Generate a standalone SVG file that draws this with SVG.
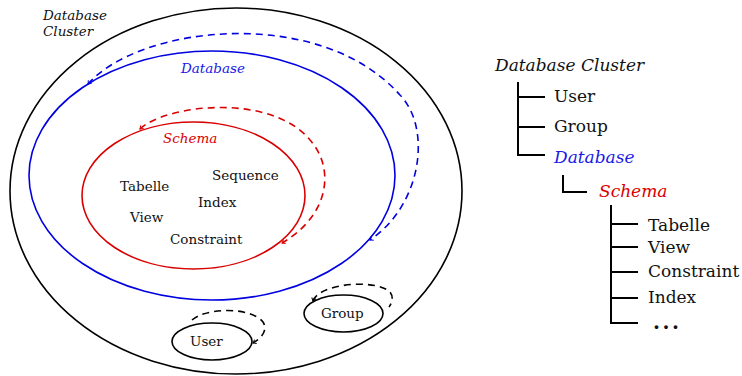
<svg xmlns="http://www.w3.org/2000/svg" width="742" height="376" viewBox="0 0 742 376">
  <style>
    .lbl { font-family: "DejaVu Serif", "Liberation Serif", serif; fill: #111; }
    .it { font-style: italic; }
    .small { font-size: 13.5px; }
    .big { font-size: 17px; }
    .blue { fill: #1a1ae6; }
    .red { fill: #d90000; }
    .solid { fill: none; stroke-width: 1.6; }
    .dash { fill: none; stroke-width: 1.6; stroke-dasharray: 7 5; }
    .tree { fill: none; stroke: #000; stroke-width: 2; }
  </style>
  <defs>
    <marker id="tip-blue" viewBox="-4 -3 5 6" markerWidth="5" markerHeight="6" refX="0" refY="0" orient="auto-start-reverse" markerUnits="userSpaceOnUse">
      <path d="M -3 -2.2 Q -1 -0.5 0 0 Q -1 0.5 -3 2.2" fill="none" stroke="#0000e0" stroke-width="1"/>
    </marker>
    <marker id="tip-red" viewBox="-4 -3 5 6" markerWidth="5" markerHeight="6" refX="0" refY="0" orient="auto-start-reverse" markerUnits="userSpaceOnUse">
      <path d="M -3 -2.2 Q -1 -0.5 0 0 Q -1 0.5 -3 2.2" fill="none" stroke="#d90000" stroke-width="1"/>
    </marker>
    <marker id="tip-black" viewBox="-4 -3 5 6" markerWidth="5" markerHeight="6" refX="0" refY="0" orient="auto-start-reverse" markerUnits="userSpaceOnUse">
      <path d="M -3 -2.2 Q -1 -0.5 0 0 Q -1 0.5 -3 2.2" fill="none" stroke="#000" stroke-width="1"/>
    </marker>
  </defs>

  <!-- nested containment view -->
  <g id="cluster">
    <ellipse class="solid" stroke="#000" cx="236" cy="191" rx="226" ry="183"/>
    <text class="lbl it small" x="43" y="20">Database</text>
    <text class="lbl it small" x="43" y="36">Cluster</text>
  </g>

  <g id="database">
    <ellipse class="solid" stroke="#0000e0" cx="212" cy="175.5" rx="183" ry="124.5"/>
    <text class="lbl it small blue" x="181" y="73">Database</text>
  </g>

  <g id="schema">
    <ellipse class="solid" stroke="#d90000" cx="193.5" cy="195.5" rx="111.5" ry="73.5"/>
    <text class="lbl it small red" x="163" y="143">Schema</text>
    <text class="lbl small" x="212" y="180">Sequence</text>
    <text class="lbl small" x="120" y="191">Tabelle</text>
    <text class="lbl small" x="198" y="207">Index</text>
    <text class="lbl small" x="130" y="222">View</text>
    <text class="lbl small" x="170" y="244">Constraint</text>
  </g>

  <g id="user">
    <ellipse class="solid" stroke="#000" cx="212" cy="341.5" rx="40" ry="18.5"/>
    <text class="lbl small" x="190" y="346">User</text>
  </g>

  <g id="group">
    <ellipse class="solid" stroke="#000" cx="343.5" cy="313.5" rx="39.5" ry="18.5"/>
    <text class="lbl small" x="321" y="318">Group</text>
  </g>

  <!-- self-referencing dashed connectors -->
  <g id="connectors">
    <path class="dash" stroke="#0000e0" marker-start="url(#tip-blue)" marker-end="url(#tip-blue)"
          d="M 88 84 C 140 25, 320 5, 400 95 C 432 128, 422 205, 370 240"/>
    <path class="dash" stroke="#d90000" marker-start="url(#tip-red)" marker-end="url(#tip-red)"
          d="M 140 129 C 165 105, 270 92, 310 140 C 335 168, 330 215, 282 243"/>
    <path class="dash" stroke="#000" marker-end="url(#tip-black)"
          d="M 192 320 C 205 308, 250 306, 263 322 C 268 330, 262 338, 253 343"/>
    <path class="dash" stroke="#000" marker-start="url(#tip-black)"
          d="M 313 301 C 318 284, 375 278, 390 292 C 394 297, 392 303, 389 307"/>
  </g>

  <!-- hierarchy tree -->
  <g id="tree">
    <text class="lbl it big" x="495" y="71">Database Cluster</text>
    <path class="tree" d="M 518 82 V 155 H 545 M 518 97 H 545 M 518 127 H 545"/>
    <text class="lbl big" x="554" y="102">User</text>
    <text class="lbl big" x="554" y="132">Group</text>
    <text class="lbl it big blue" x="554" y="163">Database</text>
    <path class="tree" d="M 563 175 V 192 H 587"/>
    <text class="lbl it big red" x="599" y="197">Schema</text>
    <path class="tree" d="M 611 205 V 323 H 638 M 611 224 H 638 M 611 247 H 638 M 611 272 H 638 M 611 298 H 638"/>
    <text class="lbl big" x="648" y="231">Tabelle</text>
    <text class="lbl big" x="648" y="253">View</text>
    <text class="lbl big" x="648" y="277">Constraint</text>
    <text class="lbl big" x="648" y="303">Index</text>
    <text class="lbl" x="653" y="329" font-size="20" font-weight="bold" letter-spacing="2.5">...</text>
  </g>
</svg>
